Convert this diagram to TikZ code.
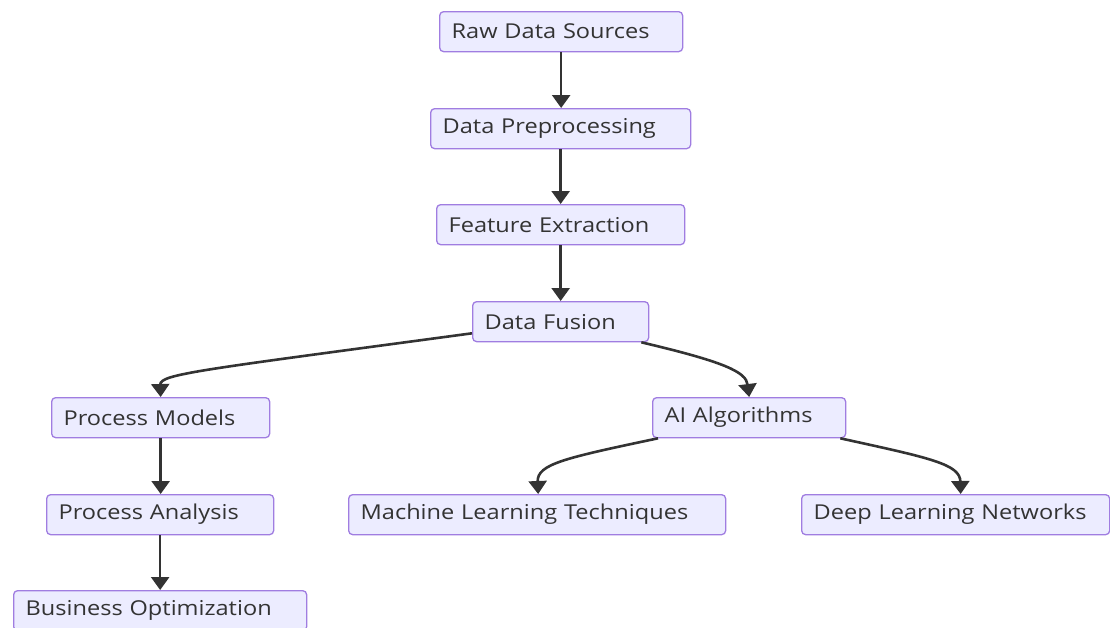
\documentclass[tikz,border=0pt]{standalone}
\usepackage{fontspec}
\setmainfont{Open Sans}[FakeStretch=1.15]
\usetikzlibrary{arrows.meta}
\definecolor{boxfill}{RGB}{236,236,255}
\definecolor{boxline}{RGB}{160,125,225}
\definecolor{edge}{RGB}{51,51,51}
\definecolor{txt}{RGB}{51,51,51}
\begin{document}
\begin{tikzpicture}[x=1pt,y=-1pt,
  box/.style={draw=boxline,fill=boxfill,line width=1.3pt,rounded corners=4pt,
    anchor=north west,minimum height=40pt,inner xsep=12pt,inner ysep=0pt,
    align=left,text=txt,font=\fontsize{20.5}{22}\selectfont},
  conn/.style={draw=edge,line width=2.6pt,-{Triangle[width=18pt,length=13pt]}}]
\useasboundingbox (0,0) rectangle (1110,627);
\node[box,text width=219pt] (raw) at (439,11) {Raw Data Sources};
\node[box,text width=236pt] (pre) at (430,108) {Data Preprocessing};
\node[box,text width=224pt] (fe) at (436,204) {Feature Extraction};
\node[box,text width=152pt] (df) at (472,301) {Data Fusion};
\node[box,text width=194pt] (pm) at (51,397) {Process Models};
\node[box,text width=169pt] (ai) at (652,397) {AI Algorithms};
\node[box,text width=203pt] (pa) at (46,494) {Process Analysis};
\node[box,text width=353pt] (ml) at (348,494) {Machine Learning Techniques};
\node[box,text width=284pt] (dl) at (801,494) {Deep Learning Networks};
\node[box,text width=269pt] (bo) at (13,590) {Business Optimization};
\draw[conn] (raw.south) -- (raw.south |- pre.north);
\draw[conn] (pre.south) -- (pre.south |- fe.north);
\draw[conn] (fe.south) -- (fe.south |- df.north);
\draw[conn] ([yshift=9pt]df.south west) .. controls (200,370) and (160,374) .. (pm.north);
\draw[conn] ([xshift=-8pt]df.south east) .. controls (725,362) and (746,372) .. (ai.north);
\draw[conn] ([xshift=6pt]ai.south west) .. controls (565,458) and (537,464) .. ([xshift=1pt]ml.north);
\draw[conn] ([xshift=-6pt]ai.south east) .. controls (930,458) and (960,464) .. ([xshift=5pt]dl.north);
\draw[conn] (pm.south) -- (pm.south |- pa.north);
\draw[conn] (pa.south) -- (pa.south |- bo.north);
\end{tikzpicture}
\end{document}
